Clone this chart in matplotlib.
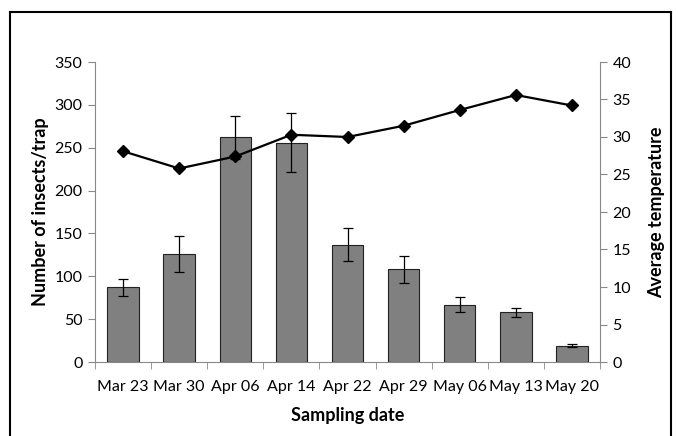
import numpy as np
import matplotlib
matplotlib.use("Agg")
from matplotlib import pyplot as plt
from matplotlib.lines import Line2D

dates = ["Mar 23", "Mar 30", "Apr 06", "Apr 14", "Apr 22", "Apr 29", "May 06", "May 13", "May 20"]
insects = [87, 126, 262, 256, 137, 108, 67, 58, 19]
insects_err = [10, 21, 25, 34, 19, 15.5, 9, 5, 1.5]
temperature = [28.1, 25.8, 27.4, 30.3, 30.0, 31.5, 33.6, 35.6, 34.2]

plt.rcParams['font.family'] = ['Lato', 'DejaVu Sans']

fig = plt.figure(figsize=(6.78, 4.36), dpi=100)
ax = fig.add_axes([95 / 678, 1 - 362 / 436, 505 / 678, 300 / 436])

x = np.arange(len(dates))
ax.bar(x, insects, width=0.56, color="#808080", edgecolor="#222222", linewidth=0.8, zorder=2)
ax.errorbar(x, insects, yerr=insects_err, fmt="none", ecolor="black", elinewidth=0.9,
            capsize=3.5, capthick=0.9, zorder=3)

ax.set_xlim(-0.5, len(dates) - 0.5)
ax.set_ylim(0, 350)
ax.set_yticks(np.arange(0, 351, 50))
ax.set_xticks(x)
ax.set_xticklabels(dates)
ax.set_xticks(np.arange(-0.5, len(dates)), minor=True)
ax.tick_params(axis="x", which="major", length=0, pad=13, labelsize=11.5)
ax.tick_params(axis="x", which="minor", length=5, color="#888888", direction="out")
ax.tick_params(axis="y", length=5, color="#888888", direction="out", labelsize=11.5, pad=4)
for s in ["top", "right"]:
    ax.spines[s].set_visible(False)
for s in ["left", "bottom"]:
    ax.spines[s].set_color("#888888")

ax.set_ylabel("Number of insects/trap", fontsize=13, fontweight="bold", labelpad=4)
ax.set_xlabel("Sampling date", fontsize=13, fontweight="bold", labelpad=9)

ax2 = ax.twinx()
ax2.plot(x, temperature, color="black", linewidth=1.6, marker="D", markersize=6, zorder=4)
ax2.set_ylim(0, 40)
ax2.set_yticks(np.arange(0, 41, 5))
ax2.tick_params(axis="y", length=5, color="#888888", direction="out", labelsize=11.5, pad=4)
for s in ["top", "left", "bottom"]:
    ax2.spines[s].set_visible(False)
ax2.spines["right"].set_color("#888888")
ax2.set_ylabel("Average temperature", fontsize=13, fontweight="bold", labelpad=12)

# outer frame around the figure
W, H = 678, 436
fx0, fx1, fy0 = 10 / W, 671 / W, 1 - 12 / H
for xs, ys in [([fx0, fx0], [0, fy0]), ([fx0, fx1], [fy0, fy0]), ([fx1, fx1], [fy0, 0])]:
    fig.add_artist(Line2D(xs, ys, color="black", linewidth=1.5, transform=fig.transFigure))

fig.savefig("out.png", dpi=100)
